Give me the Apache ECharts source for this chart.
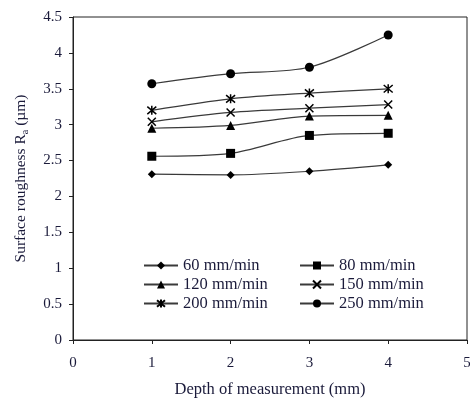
<!DOCTYPE html>
<html>
<head>
<meta charset="utf-8">
<script src="https://cdn.jsdelivr.net/npm/echarts@6/dist/echarts.min.js"></script>
<style>
html,body{margin:0;padding:0;background:#fff;}
#chart{width:470px;height:398px;}
</style>
</head>
<body>
<div id="chart"></div>
<script>
// depth of measurement (mm)
var depth = [1, 2, 3, 4];
var names = ['60 mm/min', '80 mm/min', '120 mm/min', '150 mm/min', '200 mm/min', '250 mm/min'];
// surface roughness Ra (um) per cutting speed
var v60 = [2.31, 2.30, 2.35, 2.44];
var v80 = [2.56, 2.60, 2.85, 2.88];
var v120 = [2.95, 2.99, 3.12, 3.13];
var v150 = [3.04, 3.17, 3.23, 3.28];
var v200 = [3.20, 3.36, 3.44, 3.50];
var v250 = [3.57, 3.71, 3.80, 4.25];
var yTicks = [0, 0.5, 1, 1.5, 2, 2.5, 3, 3.5, 4, 4.5];

var font = 'Liberation Serif';
var txtColor = '#1a1a3a';
var crossPath = 'path://M0,0L10,10M10,0L0,10';
var starPath = 'path://M0,0L10,10M10,0L0,10M5,-1L5,11';
var symbols = ['diamond', 'rect', 'triangle', crossPath, starPath, 'circle'];
var sizes = [8, 9, 9, 8, 9, 9];
var allData = [v60, v80, v120, v150, v200, v250];

function pairs(vals) {
	var out = [];
	for (var i = 0; i < vals.length; i++) {
		out.push([depth[i], vals[i]]);
	}
	return out;
}

var series = [];
for (var i = 0; i < names.length; i++) {
	var isPath = symbols[i].indexOf('path://') === 0;
	series.push({
		name: names[i],
		type: 'line',
		smooth: 0.3,
		data: pairs(allData[i]),
		symbol: symbols[i],
		symbolSize: sizes[i],
		showSymbol: true,
		lineStyle: {color: '#3a3a3a', width: 1.2},
		itemStyle: isPath ? {color: '#000', borderColor: '#000', borderWidth: 1.5} : {color: '#000', borderWidth: 0},
		emphasis: {disabled: true}
	});
}

var chart = echarts.init(document.getElementById('chart'));
var legendBase = {
	orient: 'vertical',
	top: 257,
	padding: 0,
	itemWidth: 34,
	itemHeight: 10,
	itemGap: 2,
	textStyle: {fontFamily: font, fontSize: 16.5, color: txtColor, lineHeight: 16.5}
};
var option = {
	animation: false,
	backgroundColor: '#fff',
	grid: {left: 73, right: 3, top: 17, bottom: 58, outerBoundsMode: 'none', show: true, borderColor: '#222', borderWidth: 1, backgroundColor: 'transparent'},
	legend: [
		Object.assign({}, legendBase, {left: 143, data: [names[0], names[2], names[4]]}),
		Object.assign({}, legendBase, {left: 299, data: [names[1], names[3], names[5]]})
	],
	xAxis: {
		type: 'value',
		min: 0,
		max: 5,
		interval: 1,
		name: 'Depth of measurement (mm)',
		nameLocation: 'middle',
		nameGap: 41,
		nameTextStyle: {fontFamily: font, fontSize: 16.5, color: txtColor},
		axisLine: {lineStyle: {color: '#222', width: 1}},
		axisTick: {length: 4, lineStyle: {color: '#222'}},
		axisLabel: {fontFamily: font, fontSize: 15, color: txtColor, margin: 16},
		splitLine: {show: false}
	},
	yAxis: {
		type: 'value',
		min: yTicks[0],
		max: yTicks[yTicks.length - 1],
		interval: 0.5,
		name: 'Surface roughness R{sub|a} (µm)',
		nameLocation: 'middle',
		nameGap: 43,
		nameTextStyle: {
			fontFamily: font, fontSize: 15.5, color: txtColor,
			rich: {sub: {fontFamily: font, fontSize: 10, color: txtColor, verticalAlign: 'bottom', padding: [8, 0, 0, 0]}}
		},
		axisLine: {show: true, lineStyle: {color: '#222', width: 1}},
		axisTick: {show: true, length: 4, lineStyle: {color: '#222'}},
		axisLabel: {fontFamily: font, fontSize: 15, color: txtColor, margin: 11},
		splitLine: {show: false}
	},
	series: series
};
chart.setOption(option);
</script>
</body>
</html>
